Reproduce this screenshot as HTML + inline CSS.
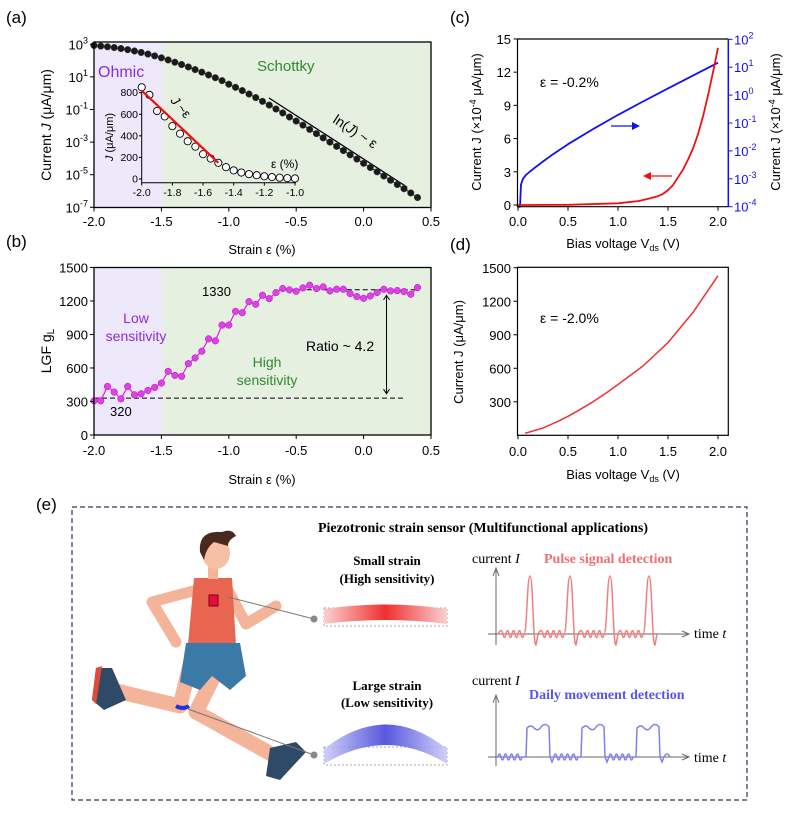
<!DOCTYPE html>
<html><head><meta charset="utf-8">
<style>
body{margin:0;background:#fff;}
svg{display:block;font-family:"Liberation Sans",sans-serif;}
.serif{font-family:"Liberation Serif",serif;}
</style></head>
<body>
<svg id="fig" width="792" height="814" viewBox="0 0 792 814" xmlns="http://www.w3.org/2000/svg">
<rect x="0" y="0" width="792" height="814" fill="#fff"/>
<text x="6" y="23" font-size="17">(a)</text>
<text x="6" y="247" font-size="17">(b)</text>
<text x="450" y="23" font-size="17">(c)</text>
<text x="450" y="250" font-size="17">(d)</text>
<text x="36" y="510" font-size="17">(e)</text>

<g id="pa">
<rect x="94" y="42" width="68.5" height="165.5" fill="#eee8fb"/>
<rect x="162.5" y="42" width="268.5" height="165.5" fill="#e5f0e1"/>
<text x="98" y="77" font-size="16" fill="#8a2be2">Ohmic</text>
<text x="257" y="71" font-size="15" fill="#2e8b2e">Schottky</text>
<line x1="269" y1="98" x2="407" y2="187" stroke="#000" stroke-width="1.3"/>
<text transform="translate(332,122) rotate(33)" font-size="14">ln(<tspan font-style="italic">J</tspan>) ~ ε</text>
<text transform="translate(170,101) rotate(50)" font-size="13"><tspan font-style="italic">J</tspan> ~ε</text>
<text transform="translate(113,137) rotate(-90)" font-size="11" text-anchor="middle"><tspan font-style="italic">J</tspan> (μA/μm)</text>
<text x="271" y="168" font-size="12">ε (%)</text>
<text transform="translate(51,125) rotate(-90)" font-size="14" text-anchor="middle">Current <tspan font-style="italic">J</tspan> (μA/μm)</text>
<text x="262" y="254" font-size="13" text-anchor="middle">Strain ε (%)</text>
</g>

<g id="pb">
<rect x="94" y="267.5" width="68.5" height="167.5" fill="#eee8fb"/>
<rect x="162.5" y="267.5" width="268.5" height="167.5" fill="#e5f0e1"/>
<text x="136" y="323" font-size="14" fill="#8a2be2" text-anchor="middle">Low</text>
<text x="136" y="341" font-size="14" fill="#8a2be2" text-anchor="middle">sensitivity</text>
<text x="267" y="367" font-size="14" fill="#2e8b2e" text-anchor="middle">High</text>
<text x="267" y="385" font-size="14" fill="#2e8b2e" text-anchor="middle">sensitivity</text>
<text x="306" y="351" font-size="14">Ratio ~ 4.2</text>
<text x="202" y="296" font-size="13">1330</text>
<text x="110" y="416" font-size="13">320</text>
<text transform="translate(51,351) rotate(-90)" font-size="14" text-anchor="middle">LGF g<tspan font-size="10" dy="3">L</tspan></text>
<text x="262" y="484" font-size="13" text-anchor="middle">Strain ε (%)</text>
</g>

<g id="pc">
<text x="540" y="87" font-size="14">ε = -0.2%</text>
<text transform="translate(481,122) rotate(-90)" font-size="13" text-anchor="middle">Current J (×10<tspan font-size="9" dy="-5">-4</tspan><tspan dy="5"> μA/μm)</tspan></text>
<text transform="translate(780,122) rotate(-90)" font-size="13" text-anchor="middle">Current J (×10<tspan font-size="9" dy="-5">-4</tspan><tspan dy="5"> μA/μm)</tspan></text>
<text x="623" y="248" font-size="13" text-anchor="middle">Bias voltage V<tspan font-size="9" dy="3">ds</tspan><tspan dy="-3"> (V)</tspan></text>
</g>

<g id="pd">
<text x="540" y="323" font-size="14">ε = -2.0%</text>
<text transform="translate(463,352) rotate(-90)" font-size="13" text-anchor="middle">Current J (μA/μm)</text>
<text x="623" y="479" font-size="13" text-anchor="middle">Bias voltage V<tspan font-size="9" dy="3">ds</tspan><tspan dy="-3"> (V)</tspan></text>
</g>

<g id="pe">
<rect x="72" y="507" width="675" height="293" fill="none" stroke="#2a3a5a" stroke-width="1.2" stroke-dasharray="5,3"/>
<text class="serif" x="483" y="532" font-size="14" font-weight="bold" text-anchor="middle">Piezotronic strain sensor (Multifunctional applications)</text>
<text class="serif" x="387" y="565" font-size="13" font-weight="bold" text-anchor="middle">Small strain</text>
<text class="serif" x="387" y="583" font-size="13" font-weight="bold" text-anchor="middle">(High sensitivity)</text>
<text class="serif" x="387" y="690" font-size="13" font-weight="bold" text-anchor="middle">Large strain</text>
<text class="serif" x="387" y="707" font-size="13" font-weight="bold" text-anchor="middle">(Low sensitivity)</text>
<text class="serif" x="472" y="563" font-size="14">current <tspan font-style="italic">I</tspan></text>
<text class="serif" x="544" y="563" font-size="14" font-weight="bold" fill="#f07070">Pulse signal detection</text>
<text class="serif" x="472" y="685" font-size="14">current <tspan font-style="italic">I</tspan></text>
<text class="serif" x="529" y="699" font-size="14" font-weight="bold" fill="#5555ee">Daily movement detection</text>
<text class="serif" x="694" y="638" font-size="14">time <tspan font-style="italic">t</tspan></text>
<text class="serif" x="694" y="762" font-size="14">time <tspan font-style="italic">t</tspan></text>
<defs>
<linearGradient id="redg" x1="0" x2="1"><stop offset="0" stop-color="#fbd0d0"/><stop offset="0.5" stop-color="#ee3030"/><stop offset="1" stop-color="#fbd0d0"/></linearGradient>
<linearGradient id="blueg" x1="0" x2="1"><stop offset="0" stop-color="#c8c8f8"/><stop offset="0.5" stop-color="#3a3ad8"/><stop offset="1" stop-color="#c8c8f8"/></linearGradient>
</defs>
<rect x="324" y="608" width="123" height="18" fill="none" stroke="#aaa" stroke-dasharray="2,2"/>
<path d="M324 609 Q386 600 447 609 L447 624 Q386 616 324 624 Z" fill="url(#redg)"/>
<rect x="324" y="747" width="123" height="18" fill="none" stroke="#aaa" stroke-dasharray="2,2"/>
<path d="M324 749 Q386 700 447 749 L447 764 Q386 726 324 764 Z" fill="url(#blueg)" opacity="0.85"/>
<line x1="496" y1="645" x2="496" y2="570" stroke="#666"/>
<path d="M493 576 L496 568 L499 576" fill="none" stroke="#666"/>
<line x1="488" y1="634" x2="688" y2="634" stroke="#666"/>
<path d="M682 631 L689 634 L682 637" fill="none" stroke="#666"/>
<line x1="496" y1="766" x2="496" y2="697" stroke="#666"/>
<path d="M493 703 L496 695 L499 703" fill="none" stroke="#666"/>
<line x1="488" y1="757" x2="688" y2="757" stroke="#666"/>
<path d="M682 754 L689 757 L682 760" fill="none" stroke="#666"/>
<g>
<path d="M196 640 L180 706 L112 690" stroke="#f4b49a" stroke-width="15" fill="none" stroke-linecap="round" stroke-linejoin="round"/>
<path d="M222 660 L196 712 L282 760" stroke="#f4b49a" stroke-width="15" fill="none" stroke-linecap="round" stroke-linejoin="round"/>
<path d="M96 668 L112 668 L126 700 L104 710 L92 700 Z" fill="#2f4a66"/>
<path d="M96 668 L102 666 L96 704 L92 700 Z" fill="#e04a3a"/>
<path d="M270 748 L296 742 L306 752 L280 780 L266 776 Z" fill="#2f4a66"/>
<path d="M204 588 L152 602 L176 642" stroke="#f4b49a" stroke-width="11" fill="none" stroke-linecap="round" stroke-linejoin="round"/>
<path d="M228 590 L246 624 L276 606" stroke="#f4b49a" stroke-width="11" fill="none" stroke-linecap="round" stroke-linejoin="round"/>
<path d="M194 578 L232 578 L236 645 L188 645 Z" fill="#e8664f"/>
<path d="M186 643 L240 643 L246 676 L230 690 L212 676 L200 690 L180 682 Z" fill="#3b7aa6"/>
<rect x="208" y="567" width="10" height="12" fill="#f4b49a"/>
<ellipse cx="216" cy="553" rx="14" ry="16" fill="#f6c0a4"/>
<path d="M200 552 Q198 530 222 532 Q232 528 236 536 Q228 540 228 546 L214 542 Q206 548 204 560 Z" fill="#4a2a1c"/>
<rect x="209" y="595" width="9" height="11" fill="#e01040" stroke="#800"/>
<path d="M176 706 Q183 710 189 706" stroke="#2233dd" stroke-width="4" fill="none"/>
<line x1="228" y1="597" x2="314" y2="619" stroke="#777"/>
<circle cx="314" cy="619" r="3.5" fill="#888"/>
<line x1="188" y1="709" x2="314" y2="755" stroke="#777"/>
<circle cx="314" cy="755" r="3.5" fill="#888"/>
</g>
</g>
</svg>

<script>
const strainA = [-2.00,-1.95,-1.90,-1.85,-1.80,-1.75,-1.70,-1.65,-1.60,-1.55,-1.50,-1.45,-1.40,-1.35,-1.30,-1.25,-1.20,-1.15,-1.10,-1.05,-1.00,-0.95,-0.90,-0.85,-0.80,-0.75,-0.70,-0.65,-0.60,-0.55,-0.50,-0.45,-0.40,-0.35,-0.30,-0.25,-0.20,-0.15,-0.10,-0.05,0.00,0.05,0.10,0.15,0.20,0.25,0.30,0.35,0.40];
const logCurrentA = [2.93,2.89,2.85,2.80,2.74,2.67,2.59,2.50,2.40,2.29,2.17,2.04,1.90,1.76,1.61,1.45,1.29,1.12,0.95,0.77,0.55,0.36,0.16,-0.05,-0.27,-0.50,-0.73,-0.97,-1.21,-1.46,-1.71,-1.96,-2.22,-2.48,-2.74,-3.00,-3.26,-3.52,-3.78,-4.04,-4.30,-4.56,-4.82,-5.08,-5.34,-5.60,-5.86,-6.12,-6.40];
const insetStrain = [-2.00,-1.95,-1.90,-1.85,-1.80,-1.75,-1.70,-1.65,-1.60,-1.55,-1.50,-1.45,-1.40,-1.35,-1.30,-1.25,-1.20,-1.15,-1.10,-1.05,-1.00];
const insetCurrent = [850,780,630,580,490,420,350,300,230,190,150,110,80,60,45,35,25,18,12,8,5];
const gfB = [306,306,435,384,324,435,360,369,399,426,465,570,534,525,639,690,750,861,843,984,984,1107,1095,1194,1170,1251,1221,1275,1311,1299,1287,1317,1341,1311,1326,1290,1305,1305,1266,1239,1224,1245,1275,1305,1290,1293,1284,1260,1320];
const biasC = [0,0.02,0.03,0.05,0.08,0.12,0.17,0.25,0.35,0.5,0.75,1.0,1.25,1.5,1.75,2.0];
const logCurrentC = [-4,-4,-3.2,-3.0,-2.86,-2.74,-2.6,-2.38,-2.12,-1.76,-1.22,-0.71,-0.23,0.24,0.7,1.16];
const biasCLin = [0,0.5,1.0,1.2,1.3,1.4,1.45,1.5,1.55,1.6,1.65,1.7,1.75,1.8,1.85,1.9,1.95,2.0];
const linCurrentC = [0,0.02,0.15,0.35,0.55,0.8,1.0,1.35,1.8,2.5,3.2,4.1,5.1,6.4,8.0,9.9,12.0,14.2];
const biasD = [0.07,0.25,0.4,0.5,0.6,0.75,0.9,1.0,1.25,1.5,1.75,2.0];
const currentD = [18,65,125,170,220,300,390,455,620,830,1100,1429];
const xTicksStrain = ["-2.0","-1.5","-1.0","-0.5","0.0","0.5"];
const yTicksLogA = [3,1,-1,-3,-5,-7];
const yTicksB = ["0","300","600","900","1200","1500"];
const insetXTicks = ["-2.0","-1.8","-1.6","-1.4","-1.2","-1.0"];
const insetYTicks = ["0","200","400","600","800"];
const xTicksBias = ["0.0","0.5","1.0","1.5","2.0"];
const yTicksC = ["0","3","6","9","12","15"];
const yTicksCRight = [-4,-3,-2,-1,0,1,2];
const yTicksD = ["300","600","900","1200","1500"];
const pulsePeaks = [530,570,610,649];
const plateauStarts = [526,581,636];

const xa = v => 94 + (v + 2) * 134.8;
const ya = l => 44.3 + (3 - l) * 16.3;
const xi = v => 141.7 + (v + 2) * 153.3;
const yi = j => 179 - j * 0.1079;
const yb = g => 435 - g * 0.1117;
const xc = v => 518 + v * 100;
const ycl = j => 205 - j * 11.07;
const ycr = l => 39.3 + (2 - l) * 27.9;
const yd = j => 435.3 - j * 0.1117;

const NS = "http://www.w3.org/2000/svg";
const svg = document.getElementById('fig');
function mk(tag, attrs, parent) {
  const e = document.createElementNS(NS, tag);
  for (const k in attrs) e.setAttribute(k, attrs[k]);
  (parent || svg).appendChild(e);
  return e;
}
function pathFrom(xs, ys, fx, fy) {
  return xs.map((x, i) => (i ? 'L' : 'M') + fx(x).toFixed(1) + ' ' + fy(ys[i]).toFixed(1)).join(' ');
}

const ga = document.getElementById('pa');
let e;
e = mk('path', {d: pathFrom(strainA, logCurrentA, xa, ya), fill: 'none', stroke: '#222', 'stroke-width': 1}, ga);


strainA.forEach((s, i) => {
  const c = mk('circle', {cx: xa(s), cy: ya(logCurrentA[i]), r: 3.3, fill: '#1a1a1a', stroke: '#444', 'stroke-width': 0.5}, ga);
  
  
});
e = mk('path', {d: 'M141.7 87 L141.7 182.7 L296 182.7', fill: 'none', stroke: '#000', 'stroke-width': 1}, ga);


insetYTicks.forEach(t => {
  const y = yi(+t);
  const tk = mk('line', {x1: 139, x2: 141.7, y1: y, y2: y, stroke: '#000'}, ga);
  
  
  const tx = mk('text', {x: 138, y: y + 3.5, 'font-size': 10.5, 'text-anchor': 'end'}, ga);
  tx.textContent = t;
  
  
});
insetXTicks.forEach(t => {
  const x = xi(+t);
  const tk = mk('line', {x1: x, x2: x, y1: 182.7, y2: 185.5, stroke: '#000'}, ga);
  
  
  const tx = mk('text', {x: x, y: 196, 'font-size': 10.5, 'text-anchor': 'middle'}, ga);
  tx.textContent = t;
  
  
});
insetStrain.forEach((s, i) => {
  const c = mk('circle', {cx: xi(s), cy: yi(insetCurrent[i]), r: 3.6, fill: '#fff', stroke: '#000', 'stroke-width': 0.9}, ga);
  
  
});
e = mk('line', {x1: xi(-2.0), y1: yi(820), x2: xi(-1.5), y2: yi(150), stroke: '#ee1111', 'stroke-width': 2.2}, ga);


e = mk('rect', {x: 94, y: 42, width: 337, height: 165.5, fill: 'none', stroke: '#000', 'stroke-width': 1.3}, ga);


yTicksLogA.forEach(l => {
  const y = ya(l);
  const tk = mk('line', {x1: 90, x2: 94, y1: y, y2: y, stroke: '#000'}, ga);
  
  
  const tx = mk('text', {x: 88, y: y + 5, 'font-size': 13, 'text-anchor': 'end'}, ga);
  tx.innerHTML = '10<tspan font-size="9" dy="-6">' + l + '</tspan>';
  
  
});
xTicksStrain.forEach(t => {
  const x = xa(+t);
  const tk = mk('line', {x1: x, x2: x, y1: 207.5, y2: 211.5, stroke: '#000'}, ga);
  
  
  const tx = mk('text', {x: x, y: 226, 'font-size': 13, 'text-anchor': 'middle'}, ga);
  tx.textContent = t;
  
  
});

const gb = document.getElementById('pb');
e = mk('line', {x1: xa(-0.6), x2: xa(0.4), y1: yb(1300), y2: yb(1300), stroke: '#000', 'stroke-dasharray': '5,3'}, gb);


e = mk('line', {x1: xa(-2.0), x2: xa(0.3), y1: yb(330), y2: yb(330), stroke: '#000', 'stroke-dasharray': '5,3'}, gb);


e = mk('path', {d: `M${xa(0.17)} ${yb(1240)} L${xa(0.17)} ${yb(380)} M${xa(0.17)-3} ${yb(1210)} L${xa(0.17)} ${yb(1250)} L${xa(0.17)+3} ${yb(1210)} M${xa(0.17)-3} ${yb(410)} L${xa(0.17)} ${yb(370)} L${xa(0.17)+3} ${yb(410)}`, fill: 'none', stroke: '#000'}, gb);


e = mk('path', {d: pathFrom(strainA, gfB, xa, yb), fill: 'none', stroke: '#e020e0', 'stroke-width': 1.2}, gb);


strainA.forEach((s, i) => {
  const c = mk('circle', {cx: xa(s), cy: yb(gfB[i]), r: 3.3, fill: '#e040e8', stroke: '#b010b8', 'stroke-width': 0.5}, gb);
  
  
});
e = mk('rect', {x: 94, y: 267.5, width: 337, height: 167.5, fill: 'none', stroke: '#000', 'stroke-width': 1.3}, gb);


yTicksB.forEach(t => {
  const y = yb(+t);
  const tk = mk('line', {x1: 90, x2: 94, y1: y, y2: y, stroke: '#000'}, gb);
  
  
  const tx = mk('text', {x: 88, y: y + 5, 'font-size': 13, 'text-anchor': 'end'}, gb);
  tx.textContent = t;
  
  
});
xTicksStrain.forEach(t => {
  const x = xa(+t);
  const tk = mk('line', {x1: x, x2: x, y1: 435, y2: 439, stroke: '#000'}, gb);
  
  
  const tx = mk('text', {x: x, y: 455, 'font-size': 13, 'text-anchor': 'middle'}, gb);
  tx.textContent = t;
  
  
});

const gc = document.getElementById('pc');
e = mk('path', {d: pathFrom(biasC, logCurrentC, xc, ycr), fill: 'none', stroke: '#1010f0', 'stroke-width': 1.8, 'stroke-linejoin': 'round'}, gc);


e = mk('path', {d: pathFrom(biasCLin, linCurrentC, xc, ycl), fill: 'none', stroke: '#f01010', 'stroke-width': 1.8, 'stroke-linejoin': 'round'}, gc);


e = mk('path', {d: 'M611 126 L633 126', stroke: '#1010f0', 'stroke-width': 1.3}, gc);


e = mk('path', {d: 'M632 122 L640 126 L632 130 Z', fill: '#1010f0'}, gc);


e = mk('path', {d: 'M672 176 L650 176', stroke: '#f01010', 'stroke-width': 1.3}, gc);


e = mk('path', {d: 'M651 172 L643 176 L651 180 Z', fill: '#f01010'}, gc);


e = mk('path', {d: 'M728.3 39 L517.5 39 L517.5 206.7 L728.3 206.7', fill: 'none', stroke: '#000', 'stroke-width': 1.2}, gc);


e = mk('line', {x1: 728.3, x2: 728.3, y1: 39, y2: 206.7, stroke: '#1010f0', 'stroke-width': 1.5}, gc);


yTicksC.forEach(t => {
  const y = ycl(+t);
  const tk = mk('line', {x1: 513.5, x2: 517.5, y1: y, y2: y, stroke: '#000'}, gc);
  
  
  const tx = mk('text', {x: 511, y: y + 5, 'font-size': 13, 'text-anchor': 'end'}, gc);
  tx.textContent = t;
  
  
});
yTicksCRight.forEach(l => {
  const y = ycr(l);
  const tk = mk('line', {x1: 728.3, x2: 732.5, y1: y, y2: y, stroke: '#1010f0'}, gc);
  
  
  const tx = mk('text', {x: 734, y: y + 5, 'font-size': 13, fill: '#1010f0'}, gc);
  tx.innerHTML = '10<tspan font-size="9" dy="-6">' + l + '</tspan>';
  
  
});
xTicksBias.forEach(t => {
  const x = xc(+t);
  const tk = mk('line', {x1: x, x2: x, y1: 206.7, y2: 210.7, stroke: '#000'}, gc);
  
  
  const tx = mk('text', {x: x, y: 226, 'font-size': 13, 'text-anchor': 'middle'}, gc);
  tx.textContent = t;
  
  
});

const gd = document.getElementById('pd');
e = mk('path', {d: pathFrom(biasD, currentD, xc, yd), fill: 'none', stroke: '#f03030', 'stroke-width': 1.5, 'stroke-linejoin': 'round'}, gd);


e = mk('rect', {x: 517.5, y: 267.3, width: 210.8, height: 168, fill: 'none', stroke: '#000', 'stroke-width': 1.2}, gd);


yTicksD.forEach(t => {
  const y = yd(+t);
  const tk = mk('line', {x1: 513.5, x2: 517.5, y1: y, y2: y, stroke: '#000'}, gd);
  
  
  const tx = mk('text', {x: 511, y: y + 5, 'font-size': 13, 'text-anchor': 'end'}, gd);
  tx.textContent = t;
  
  
});
xTicksBias.forEach(t => {
  const x = xc(+t);
  const tk = mk('line', {x1: x, x2: x, y1: 435.3, y2: 439.3, stroke: '#000'}, gd);
  
  
  const tx = mk('text', {x: x, y: 456, 'font-size': 13, 'text-anchor': 'middle'}, gd);
  tx.textContent = t;
  
  
});

const ge = document.getElementById('pe');
let pd = 'M498 634';
let cx = 498;
pulsePeaks.forEach(p => {
  const start = p - 30;
  for (let x = Math.max(cx, start); x < p - 8; x += 6) {
    pd += ` Q${x + 1.5} 627 ${x + 3} 634 Q${x + 4.5} 641 ${x + 6} 634`;
  }
  pd += ` L${p - 6} 634 C${p - 3} 634 ${p - 3} 576 ${p} 576 C${p + 3} 576 ${p + 3} 646 ${p + 6} 645 L${p + 8} 634`;
  cx = p + 8;
});
e = mk('path', {d: pd, fill: 'none', stroke: '#f08080', 'stroke-width': 1.5}, ge);


let md = 'M498 757';
let mx = 498;
plateauStarts.forEach(p => {
  for (let x = mx; x < p - 4; x += 6) {
    md += ` Q${x + 1.5} 751 ${x + 3} 757 Q${x + 4.5} 763 ${x + 6} 757`;
  }
  md += ` L${p} 757 L${p + 1} 728 Q${p + 5} 724 ${p + 8} 728 Q${p + 12} 732 ${p + 15} 727 Q${p + 19} 722 ${p + 23} 727 L${p + 24} 757 L${p + 26} 762 L${p + 28} 757`;
  mx = p + 28;
});
md += ' Q667 751 670 757';
e = mk('path', {d: md, fill: 'none', stroke: '#8080f0', 'stroke-width': 1.5}, ge);


</script>
</body></html>
